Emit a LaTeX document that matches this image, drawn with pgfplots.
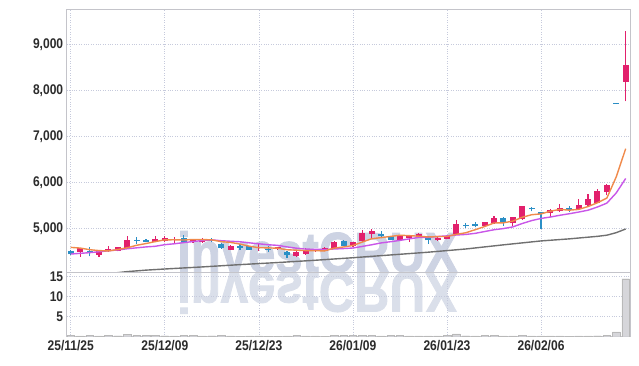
\documentclass[border=0pt]{standalone}
\usepackage{fontspec}
\setmainfont{Liberation Sans}[FakeStretch=0.86]
\newfontfamily\wmfont{Liberation Sans}[FakeStretch=0.86,FakeBold=1.5]
\usepackage{pgfplots}
\pgfplotsset{compat=1.18}
\usepackage{pgfplotstable}
\definecolor{cred}{HTML}{E2206C}
\definecolor{cblue}{HTML}{2B8FC6}
\definecolor{cora}{HTML}{F08A4B}
\definecolor{cpur}{HTML}{C957E8}
\definecolor{cgray}{HTML}{707070}
\definecolor{gridc}{HTML}{C6CADC}
\definecolor{framec}{HTML}{C4C4CA}
\definecolor{wmc}{HTML}{CDD3E3}
\definecolor{wmc2}{HTML}{DADFEA}
\definecolor{labc}{HTML}{2B2B2B}
\definecolor{volc}{HTML}{D6D6DA}

\pgfplotstableread{
x o c l h
1 4478 4565 4376 4580
3 4420 4522 4376 4530
4 4522 4550 4491 4609
5 4507 4593 4500 4600
6 4565 4752 4560 4839
9 4709 4767 4700 4826
10 4724 4783 4700 4826
11 4743 4768 4680 4811
13 4696 4767 4690 4775
14 4696 4767 4690 4780
17 4535 4622 4530 4630
20 4565 4590 4507 4652
22 4540 4583 4530 4600
24 4404 4491 4383 4500
25 4435 4535 4430 4572
26 4512 4537 4490 4560
27 4507 4578 4500 4590
28 4565 4709 4560 4720
30 4609 4696 4600 4705
31 4713 4898 4705 4957
32 4883 4941 4783 4985
35 4752 4826 4745 4835
36 4796 4854 4709 4860
37 4811 4883 4805 4890
39 4739 4796 4730 4805
40 4767 4839 4760 4850
41 4883 5087 4875 5174
44 5050 5137 5040 5145
45 5109 5224 5100 5270
47 5109 5239 5050 5250
48 5196 5485 5190 5495
51 5322 5398 5250 5410
52 5370 5441 5365 5528
54 5413 5500 5405 5645
55 5500 5630 5480 5740
56 5557 5804 5550 5848
57 5789 5952 5717 5965
59 8187 8550 7767 9290
}\redc

\pgfplotstableread{
x o c l h
0 4507 4435 4420 4520
2 4507 4463 4391 4593
7 4750 4725 4665 4811
8 4752 4709 4700 4760
12 4783 4709 4700 4848
15 4755 4730 4696 4796
16 4667 4565 4560 4670
18 4605 4580 4535 4652
19 4609 4535 4530 4615
21 4560 4535 4485 4615
23 4491 4420 4361 4500
29 4724 4622 4610 4735
33 4883 4826 4820 4941
34 4826 4752 4745 4835
38 4826 4739 4665 4835
42 5070 5045 5007 5115
43 5085 5060 5020 5130
46 5224 5109 5050 5235
49 5435 5410 5370 5470
50 5354 5311 4980 5365
53 5441 5398 5355 5480
58 7730 7705 7705 7730
}\bluec

\pgfplotstableread{
x v
0 0.3
1 0.2
2 0.3
3 0.2
4 0.3
5 0.25
6 0.55
7 0.35
8 0.3
9 0.3
10 0.25
11 0.2
12 0.3
13 0.3
14 0.2
15 0.25
16 0.3
17 0.2
18 0.15
19 0.2
20 0.2
21 0.15
22 0.15
23 0.2
24 0.3
25 0.2
26 0.2
27 0.15
28 0.3
29 0.3
30 0.3
31 0.3
32 0.3
33 0.2
34 0.3
35 0.3
36 0.2
37 0.2
38 0.2
39 0.2
40 0.3
41 0.7
42 0.25
43 0.2
44 0.3
45 0.3
46 0.2
47 0.2
48 0.3
49 0.2
50 0.2
51 0.2
52 0.2
53 0.15
54 0.2
55 0.2
56 0.25
57 0.3
58 1.2
59 14.5
}\volt

\pgfplotsset{
  cstyle/.style={
    scale only axis, width=563.3pt,
    xmin=-0.43, xmax=59.46,
    axis line style={framec, line width=0.8pt},
    grid style={gridc, dotted, line width=0.7pt},
    major tick length=0pt,
    tick label style={font=\fontsize{14}{16}\selectfont\bfseries, text=labc},
    /pgf/number format/assume math mode=true,
    xtick={0,10,20,30,40,50},
    xmajorgrids, ymajorgrids,
    clip=true,
  },
  wick/.style={only marks, mark=none, mark size=0pt, mark options={draw=none, fill=none}, forget plot,
    error bars/.cd, y dir=plus, y explicit, error mark=none,
    error bar style={draw=#1, line width=1.2pt, line cap=butt}},
  box/.style={only marks, mark=none, mark size=0pt, mark options={draw=none, fill=none}, forget plot,
    error bars/.cd, y dir=plus, y explicit, error mark=none,
    error bar style={draw=#1, line width=6pt, line cap=butt}},
}

\begin{document}
\begin{tikzpicture}
% watermark
\node[anchor=base west, inner sep=0pt, text=wmc, font=\wmfont\bfseries\fontsize{57}{57}\selectfont] at (177pt,-272.3pt) {investCRUX};
\node[anchor=base west, inner sep=0pt, yscale=-1, text=wmc2, font=\wmfont\bfseries\fontsize{57}{57}\selectfont] at (177pt,-272.3pt) {investCRUX};

\begin{axis}[cstyle,
  at={(66.7pt,-272.3pt)}, anchor=south west,
  height=263.3pt,
  ymin=4043, ymax=9768,
  ytick={5000,6000,7000,8000,9000},
  xticklabels={},
  /pgf/number format/.cd, 1000 sep={,},
]
\addplot[wick=cred] table[x=x, y=l, y error expr=\thisrow{h}-\thisrow{l}] {\redc};
\addplot[box=cred] table[x=x, y=o, y error expr=\thisrow{c}-\thisrow{o}] {\redc};
\addplot[wick=cblue] table[x=x, y=l, y error expr=\thisrow{h}-\thisrow{l}] {\bluec};
\addplot[box=cblue] table[x=x, y=c, y error expr=\thisrow{o}-\thisrow{c}] {\bluec};

\addplot[cgray, line width=1.4pt] coordinates {
(3,4005) (5,4035) (6,4058) (8,4090) (10,4115) (14,4160) (18,4210) (22,4255) (26,4305) (30,4360) (34,4420) (38,4480) (42,4550) (46,4640) (50,4725) (53,4770) (56,4825) (57,4850) (58,4905) (59,4985)};

\addplot[cpur, line width=1.4pt] coordinates {
(0,4440) (1,4455) (2,4470) (3,4490) (4,4510) (5,4530) (6,4555) (7,4575) (8,4595) (9,4609) (10,4644) (11,4663) (12,4688) (13,4712) (14,4734) (15,4748) (16,4730) (17,4718) (18,4707) (19,4683) (20,4663) (21,4642) (22,4629) (23,4595) (24,4567) (25,4547) (26,4543) (27,4538) (28,4550) (29,4559) (30,4571) (31,4606) (32,4642) (33,4682) (34,4708) (35,4737) (36,4770) (37,4801) (38,4804) (39,4821) (40,4835) (41,4854) (42,4866) (43,4890) (44,4929) (45,4968) (46,4994) (47,5030) (48,5104) (49,5167) (50,5214) (51,5245) (52,5283) (53,5316) (54,5353) (55,5393) (56,5463) (57,5547) (58,5770) (59,6083)};

\addplot[cora, line width=1.4pt] coordinates {
(0,4585) (1,4570) (2,4535) (3,4515) (4,4507) (5,4539) (6,4576) (7,4630) (8,4668) (9,4711) (10,4749) (11,4750) (12,4745) (13,4756) (14,4756) (15,4748) (16,4710) (17,4692) (18,4657) (19,4610) (20,4578) (21,4574) (22,4567) (23,4533) (24,4524) (25,4515) (26,4511) (27,4510) (28,4568) (29,4594) (30,4626) (31,4701) (32,4773) (33,4797) (34,4823) (35,4849) (36,4840) (37,4828) (38,4811) (39,4820) (40,4822) (41,4869) (42,4903) (43,4969) (44,5038) (45,5115) (46,5119) (47,5156) (48,5239) (49,5295) (50,5313) (51,5371) (52,5411) (53,5394) (54,5410) (55,5473) (56,5555) (57,5657) (58,6120) (59,6730)};
\end{axis}

\begin{axis}[cstyle,
  at={(66.7pt,-336.7pt)}, anchor=south west,
  height=64.4pt,
  ymin=0, ymax=16.1,
  ytick={5,10,15},
  xticklabels={25/11/25,25/12/09,25/12/23,26/01/09,26/01/23,26/02/06},
]
\addplot[ybar, bar width=7.5pt, fill=volc, draw=gray!55, line width=0.4pt] table[x=x, y=v] {\volt};
\node[rotate=90, text=gray!80!black, font=\fontsize{11}{12}\selectfont] at (axis description cs:-0.059,0.52) {10\textsuperscript{6}};
\end{axis}
\pgfresetboundingbox
\path (0pt,0pt) rectangle (639pt,-366pt);
\end{tikzpicture}
\end{document}
